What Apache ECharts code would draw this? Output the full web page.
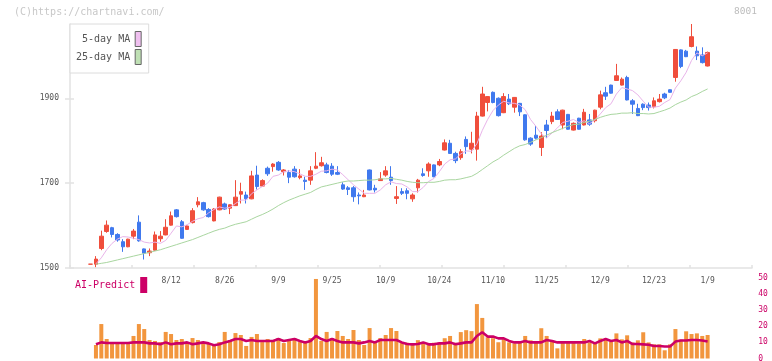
<!DOCTYPE html>
<html><head><meta charset="utf-8">
<script src="https://cdn.jsdelivr.net/npm/echarts@6/dist/echarts.min.js"></script>
<style>html,body{margin:0;padding:0;background:#fff}#c{width:772px;height:361px}</style>
</head><body><div id="c"></div>
<script>
// ---- data (first entry is the flat bar on 7/18) ----
const dates = ['7/18','7/22','7/23','7/24','7/25','7/28','7/29','7/30','7/31','8/1','8/4','8/5','8/6','8/7','8/8','8/12','8/13','8/14','8/15','8/18','8/19','8/20','8/21','8/22','8/25','8/26','8/27','8/28','8/29','9/1','9/2','9/3','9/4','9/5','9/8','9/9','9/10','9/11','9/12','9/16','9/17','9/18','9/19','9/22','9/24','9/25','9/26','9/29','9/30','10/1','10/2','10/3','10/6','10/7','10/8','10/9','10/10','10/14','10/15','10/16','10/17','10/20','10/21','10/22','10/23','10/24','10/27','10/28','10/29','10/30','10/31','11/4','11/5','11/6','11/7','11/10','11/11','11/12','11/13','11/14','11/17','11/18','11/19','11/20','11/21','11/25','11/26','11/27','11/28','12/1','12/2','12/3','12/4','12/5','12/8','12/9','12/10','12/11','12/12','12/15','12/16','12/17','12/18','12/19','12/22','12/23','12/24','12/25','12/26','12/29','12/30','1/5','1/6','1/7','1/8','1/9'];
const tickDates = ['8/12','8/26','9/9','9/25','10/9','10/24','11/10','11/25','12/9','12/23','1/9'];
const priceTicks = [1500,1700,1900];

const opens = [1509,
 1509,1546,1586,1595,1579,1562,1550,1575,1608,1545,
 1536,1542,1569,1578,1601,1637,1609,1591,1607,1649,
 1654,1638,1611,1637,1651,1641,1647,1674,1672,1663,
 1719,1693,1735,1739,1749,1727,1725,1733,1713,1707,
 1707,1735,1741,1743,1740,1725,1696,1689,1689,1672,
 1668,1731,1688,1706,1719,1714,1664,1680,1682,1663,
 1689,1722,1729,1743,1743,1778,1794,1770,1760,1803,
 1780,1780,1858,1890,1914,1900,1866,1898,1879,1888,
 1861,1806,1813,1784,1837,1845,1868,1837,1862,1825,
 1853,1837,1849,1847,1879,1913,1931,1942,1931,1949,
 1894,1876,1886,1884,1880,1892,1910,1920,1949,2014,
 2011,2022,2011,2002,1976];
const closes = [1509,
 1521,1575,1601,1579,1566,1550,1568,1587,1564,1535,
 1540,1578,1575,1596,1623,1621,1570,1599,1635,1656,
 1637,1621,1639,1667,1639,1649,1667,1680,1663,1717,
 1692,1706,1722,1745,1731,1731,1714,1715,1717,1704,
 1729,1740,1748,1725,1721,1721,1686,1685,1668,1670,
 1672,1684,1684,1710,1729,1706,1668,1676,1676,1672,
 1707,1718,1745,1715,1751,1795,1770,1753,1774,1786,
 1794,1858,1910,1904,1890,1859,1904,1887,1902,1868,
 1802,1792,1806,1811,1824,1858,1850,1872,1827,1841,
 1827,1867,1839,1872,1908,1905,1912,1953,1945,1896,
 1886,1859,1878,1878,1894,1898,1901,1914,2015,1975,
 1998,2045,2000,1984,2008];
const highs = [1509,
 1528,1588,1612,1597,1582,1568,1569,1592,1624,1546,
 1546,1586,1587,1615,1633,1639,1613,1601,1641,1667,
 1656,1641,1641,1668,1654,1650,1707,1701,1680,1729,
 1741,1709,1739,1747,1752,1733,1731,1740,1733,1715,
 1740,1773,1762,1748,1747,1740,1702,1693,1693,1678,
 1684,1732,1696,1726,1740,1740,1693,1688,1688,1676,
 1710,1735,1749,1744,1757,1803,1802,1774,1780,1810,
 1821,1868,1927,1905,1916,1902,1912,1910,1903,1889,
 1862,1808,1835,1820,1849,1868,1874,1873,1863,1843,
 1854,1875,1863,1873,1918,1927,1932,1981,1949,1953,
 1898,1887,1888,1890,1902,1910,1913,1921,2016,2015,
 2014,2075,2022,2020,2010];
const lows = [1509,
 1502,1542,1583,1572,1562,1538,1549,1568,1562,1520,
 1528,1541,1562,1577,1600,1619,1569,1590,1605,1643,
 1635,1619,1610,1636,1637,1627,1646,1652,1652,1662,
 1685,1692,1717,1727,1729,1718,1700,1713,1709,1684,
 1696,1733,1739,1723,1717,1719,1684,1672,1656,1650,
 1667,1683,1678,1705,1715,1696,1651,1672,1662,1656,
 1678,1715,1715,1714,1740,1777,1769,1747,1755,1769,
 1770,1753,1857,1869,1888,1857,1865,1884,1866,1858,
 1800,1788,1803,1764,1806,1839,1849,1827,1826,1824,
 1826,1836,1835,1843,1874,1896,1911,1941,1930,1895,
 1863,1858,1872,1871,1876,1890,1898,1913,1939,1971,
 1997,2020,1990,1982,1975];
const ma5 = [null,
 1510,1524,1543,1558,1568,1574,1573,1570,1567,1561,
 1559,1561,1558,1565,1582,1599,1597,1602,1610,1616,
 1619,1630,1638,1644,1641,1643,1652,1660,1660,1675,
 1684,1692,1700,1716,1719,1727,1729,1727,1722,1716,
 1716,1721,1728,1729,1733,1731,1720,1708,1696,1686,
 1676,1676,1676,1684,1696,1703,1699,1698,1691,1680,
 1680,1690,1704,1711,1727,1745,1755,1757,1769,1776,
 1775,1793,1824,1850,1871,1884,1893,1889,1888,1884,
 1873,1850,1834,1816,1807,1818,1830,1843,1846,1850,
 1843,1847,1840,1849,1863,1878,1887,1910,1925,1922,
 1918,1908,1893,1879,1879,1881,1890,1897,1924,1941,
 1961,1989,2007,2000,2007];
const ma25 = [null,
 1509,1511,1513,1516,1519,1522,1525,1528,1531,1534,
 1537,1540,1543,1547,1551,1555,1559,1563,1567,1572,
 1577,1582,1587,1591,1594,1599,1603,1606,1609,1615,
 1621,1626,1632,1639,1647,1654,1660,1665,1670,1674,
 1678,1685,1691,1694,1697,1700,1703,1705,1705,1706,
 1707,1707,1708,1710,1710,1711,1709,1707,1704,1702,
 1701,1701,1702,1702,1704,1707,1708,1708,1710,1713,
 1716,1723,1732,1741,1750,1757,1766,1774,1782,1788,
 1791,1796,1802,1807,1813,1819,1824,1829,1834,1838,
 1839,1843,1846,1850,1855,1859,1862,1863,1865,1865,
 1866,1864,1864,1863,1864,1868,1872,1877,1885,1891,
 1896,1904,1909,1916,1922];
const volumes = [null,
 8.4,21.4,12.1,9,9,9,9,14,21.4,18.3,
 11.5,10.9,10.2,16.5,15.2,11.5,12.1,9.6,12.7,11.5,
 10.2,9,7.8,10.2,16.5,11.5,15.8,14.6,7.8,13.4,
 15.2,10.2,12.1,10.9,12.7,9.6,11.5,12.7,10.2,10.2,
 12.7,49.4,10.9,16.5,12.7,17.1,14,12.1,17.7,11.5,
 8.4,18.9,10.2,12.7,14.6,18.9,17.1,10.2,9.8,8.6,
 11.4,10.2,8.6,9.8,9.8,12.6,14,9.8,16.4,17.6,
 17,33.8,25.2,13.2,12.6,10.1,12,10,9.4,10,
 14,11.3,10,18.8,14,11.3,6.3,10,10,10,
 9.4,12.1,10,9.4,12.5,11.9,10.4,15.6,11.9,14.4,
 10,11.3,16.3,10,8.8,8.8,5.1,8.8,18.3,11.7,
 16.9,15.2,15.6,14,14.6];
const aiPredict = [null,
 8.8,10,9.6,9.6,9.6,9.6,9.6,10,10,10,
 9.4,9.4,8.8,10,8.8,9.4,9.4,10,8.8,9.4,
 10,9.4,8.2,8.8,10,10.9,12.1,12.1,10.9,11.5,
 10.9,10.9,10.9,10.9,12.1,10.9,11.5,12.1,10.9,10,
 10.9,14,12.1,10.9,12.1,10.9,10,10,10,9.4,
 10,10.9,10,11.5,11.5,11.5,11.5,10,9,8.8,
 9,10,8.8,8.8,9.4,9.4,10,8.8,9.4,10,
 10,14,16.3,13.6,13.6,12.5,12.5,10.9,10,10,
 10.9,10,10,10,11.5,10.9,10,10,10,10,
 10,10,10.9,9.4,10.9,12.1,10.9,11.5,10,10.9,
 9,9,8.8,8.5,7.8,7.8,7.5,7.5,10.5,11.2,
 11.2,11.5,11.5,11.2,10.5];

// ---- styles ----
const UP = '#f04e3c', DOWN = '#4079ee';
const FONT = 'DejaVu Sans Mono';
const AXIS = '#e2e2e2';

const candleData = dates.map((d, i) => {
  const v = [opens[i], closes[i], lows[i], highs[i]];
  if (opens[i] === closes[i]) return {value: v, itemStyle: {color: UP, borderColor: UP, color0: UP, borderColor0: UP}};
  return v;
});

const chart = echarts.init(document.getElementById('c'), null, {renderer: 'canvas'});
chart.setOption({
  animation: false,
  backgroundColor: '#fff',
  title: [
    {text: '(C)https://chartnavi.com/', left: 14, top: 7, padding: 0,
     textStyle: {fontFamily: FONT, fontSize: 10, fontWeight: 'normal', color: '#c8c8c8'}},
    {text: '8001', right: 15, top: 7, padding: 0,
     textStyle: {fontFamily: FONT, fontSize: 9.5, fontWeight: 'normal', color: '#bdbdbd'}}
  ],
  legend: [
    {show: true, orient: 'vertical', left: 70, top: 24, align: 'right',
     padding: [7, 7, 8, 6], itemGap: 2, itemWidth: 6, itemHeight: 15,
     backgroundColor: '#fff', borderColor: '#dcdcdc', borderWidth: 1,
     selectedMode: false,
     formatter: n => n.padStart(9, ' '),
     textStyle: {fontFamily: FONT, fontSize: 10, color: '#555'},
     data: [
       {name: '5-day MA', icon: 'rect', itemStyle: {color: '#f0c0f0', borderColor: '#666', borderWidth: 1}},
       {name: '25-day MA', icon: 'rect', itemStyle: {color: '#bfe0b4', borderColor: '#666', borderWidth: 1}}
     ]},
    {show: true, orient: 'horizontal', left: 75, top: 277, align: 'right',
     padding: 0, itemWidth: 7, itemHeight: 16, selectedMode: false,
     textStyle: {fontFamily: FONT, fontSize: 10, color: '#cc0066'},
     data: [{name: 'AI-Predict', icon: 'rect', itemStyle: {color: '#cc0066'}}]}
  ],
  grid: [
    {left: 70, right: 20, top: 24, bottom: 93, containLabel: false, outerBoundsMode: 'none'},
    {left: 87.9, right: 61.7, top: 24, bottom: 93, containLabel: false, outerBoundsMode: 'none'},
    {left: 87.9, right: 61.7, top: 278, bottom: 2.5, containLabel: false, outerBoundsMode: 'none'}
  ],
  xAxis: [
    {gridIndex: 0, type: 'value', min: 0, max: 11, interval: 1,
     axisLine: {show: true, lineStyle: {color: AXIS, width: 1.5}},
     axisTick: {show: true, inside: true, length: 3, lineStyle: {color: AXIS, width: 1.5}},
     axisLabel: {show: false}, splitLine: {show: false}},
    {gridIndex: 1, type: 'category', data: dates, boundaryGap: true,
     axisLine: {show: false}, axisTick: {show: false}, splitLine: {show: false},
     axisLabel: {show: true, margin: 9, fontFamily: FONT, fontSize: 8, color: '#555',
       interval: (idx, val) => tickDates.indexOf(val) >= 0}},
    {gridIndex: 2, type: 'category', data: dates, boundaryGap: true, show: false}
  ],
  yAxis: [
    {gridIndex: 0, type: 'value', min: 1500, max: 2075, position: 'left',
     axisLine: {show: true, lineStyle: {color: AXIS, width: 1.5}},
     axisTick: {show: true, length: 5, customValues: priceTicks, lineStyle: {color: AXIS, width: 1.5}},
     axisLabel: {show: true, margin: 11, customValues: priceTicks, fontFamily: FONT, fontSize: 8, color: '#555',
       formatter: v => String(v)},
     splitLine: {show: false}},
    {gridIndex: 1, type: 'value', min: 1500, max: 2075, position: 'left', offset: 17.9,
     axisLine: {show: false},
     axisTick: {show: true, inside: true, length: 4, customValues: priceTicks, lineStyle: {color: AXIS, width: 1.5}},
     axisLabel: {show: false}, splitLine: {show: false}},
    {gridIndex: 2, type: 'value', min: 0, max: 50, interval: 10, position: 'right', offset: 40,
     axisLine: {show: false}, axisTick: {show: false}, splitLine: {show: false},
     axisLabel: {show: true, margin: 8, fontFamily: FONT, fontSize: 8, color: '#cc0066',
       formatter: v => String(v)}}
  ],
  series: [
    {name: 'price', type: 'candlestick', xAxisIndex: 1, yAxisIndex: 1, barWidth: 4,
     data: candleData,
     itemStyle: {color: UP, color0: DOWN, borderColor: UP, borderColor0: DOWN, borderWidth: 1}},
    {name: '5-day MA', type: 'line', xAxisIndex: 1, yAxisIndex: 1, data: ma5,
     symbol: 'none', lineStyle: {color: '#e9b4ea', width: 1}, itemStyle: {color: '#f0c0f0'}},
    {name: '25-day MA', type: 'line', xAxisIndex: 1, yAxisIndex: 1, data: ma25,
     symbol: 'none', lineStyle: {color: '#a9d6a0', width: 1}, itemStyle: {color: '#bfe0b4'}},
    {name: 'volume', type: 'bar', xAxisIndex: 2, yAxisIndex: 2, data: volumes, barWidth: 4,
     itemStyle: {color: '#f2963e'}},
    {name: 'AI-Predict', type: 'line', xAxisIndex: 2, yAxisIndex: 2, data: aiPredict,
     symbol: 'none', lineStyle: {color: '#cc0066', width: 2.6}, itemStyle: {color: '#cc0066'}}
  ]
});
</script>
</body></html>
